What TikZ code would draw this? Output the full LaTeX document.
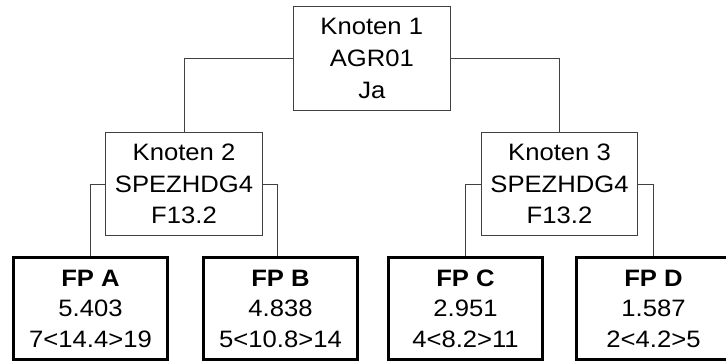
\documentclass[tikz,border=0pt]{standalone}
\usepackage{fontspec}
\setmainfont{Liberation Sans}[FakeStretch=1.08]
\begin{document}
\begin{tikzpicture}[x=0.75pt,y=-0.75pt,
  inner/.style={draw=black!75, line width=0.75pt, inner sep=0pt, align=center,
    minimum width=117.5pt, minimum height=77.5pt,
    font=\fontsize{17.8pt}{23.8pt}\selectfont},
  leaf/.style={draw=black, line width=2.25pt, inner sep=0pt, align=center,
    minimum width=115.5pt, minimum height=76.5pt,
    font=\fontsize{17.8pt}{23pt}\selectfont},
  conn/.style={draw=black!75, line width=0.75pt}]
\useasboundingbox (0,0) rectangle (726,362);
\node[inner] (n1) at (371.8,58.4) {Knoten 1\\AGR01\\Ja};
\node[inner] (n2) at (184,184) {Knoten 2\\SPEZHDG4\\F13.2};
\node[inner] (n3) at (559.5,184) {Knoten 3\\SPEZHDG4\\F13.2};
\node[leaf] (fa) at (90.5,308.8) {\textbf{FP A}\\5.403\\7<14.4>19};
\node[leaf] (fb) at (280.5,308.8) {\textbf{FP B}\\4.838\\5<10.8>14};
\node[leaf] (fc) at (465.5,308.8) {\textbf{FP C}\\2.951\\4<8.2>11};
\node[leaf] (fd) at (653.5,308.8) {\textbf{FP D}\\1.587\\2<4.2>5};
\draw[conn] (n1.west) -| (n2.north);
\draw[conn] (n1.east) -| (n3.north);
\draw[conn] (n2.west) -| (fa.north);
\draw[conn] (n2.east) -| ([xshift=-1.9pt]fb.north);
\draw[conn] (n3.west) -| (fc.north);
\draw[conn] (n3.east) -| (fd.north);
\end{tikzpicture}
\end{document}
